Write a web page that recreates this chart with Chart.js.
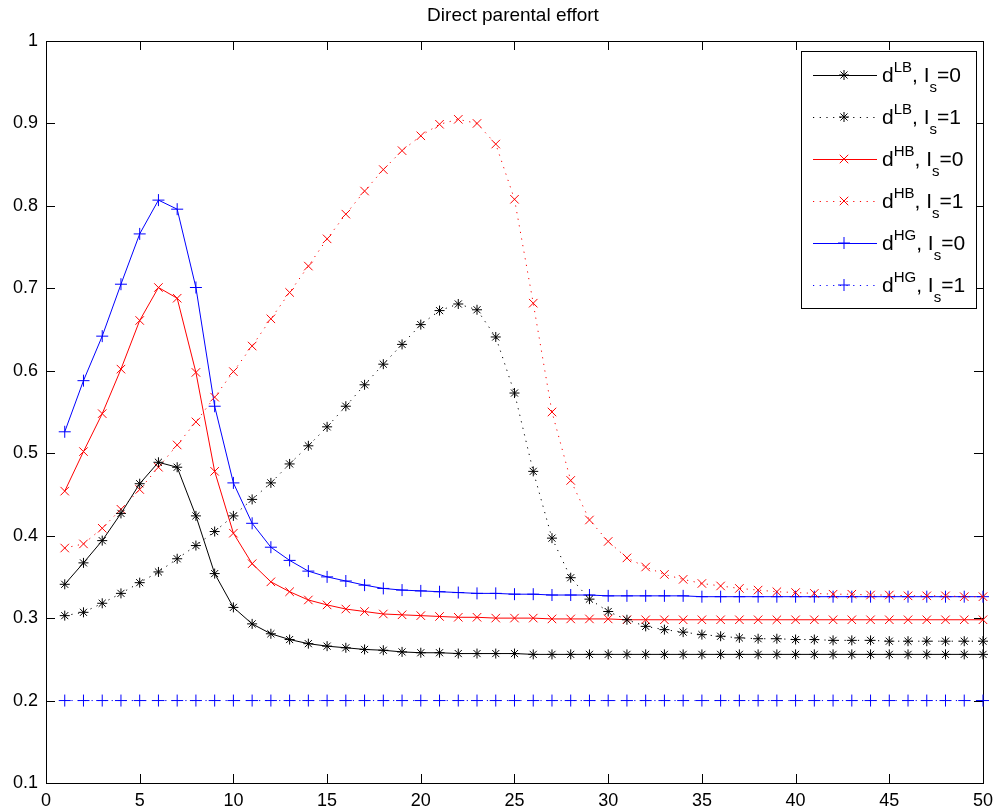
<!DOCTYPE html>
<html>
<head>
<meta charset="utf-8">
<script src="https://cdn.jsdelivr.net/npm/chart.js@4/dist/chart.umd.min.js"></script>
<style>
  html, body { margin: 0; padding: 0; background: #fff; }
  canvas { display: block; }
</style>
</head>
<body>
<canvas id="chart" width="1000" height="811"></canvas>
<script>
// x: period
const xs = [1, 2, 3, 4, 5, 6, 7, 8, 9, 10, 11, 12, 13, 14, 15, 16, 17, 18, 19, 20,
    21, 22, 23, 24, 25, 26, 27, 28, 29, 30, 31, 32, 33, 34, 35, 36, 37, 38, 39, 40,
    41, 42, 43, 44, 45, 46, 47, 48, 49, 50];

// d^LB, I_s=0
const dLB0 = [0.341, 0.367, 0.394, 0.427, 0.463, 0.489, 0.483, 0.424, 0.354, 0.313,
    0.293, 0.281, 0.274, 0.269, 0.266, 0.264, 0.262, 0.261, 0.259, 0.258,
    0.258, 0.257, 0.257, 0.257, 0.257, 0.256, 0.256, 0.256, 0.256, 0.256,
    0.256, 0.256, 0.256, 0.256, 0.256, 0.256, 0.256, 0.256, 0.256, 0.256,
    0.256, 0.256, 0.256, 0.256, 0.256, 0.256, 0.256, 0.256, 0.256, 0.256];
// d^LB, I_s=1
const dLB1 = [0.303, 0.307, 0.318, 0.330, 0.343, 0.356, 0.372, 0.388, 0.405, 0.424,
    0.444, 0.464, 0.487, 0.509, 0.532, 0.557, 0.583, 0.608, 0.632, 0.656,
    0.673, 0.681, 0.674, 0.641, 0.573, 0.478, 0.397, 0.349, 0.323, 0.308,
    0.298, 0.290, 0.286, 0.283, 0.280, 0.278, 0.276, 0.275, 0.275, 0.274,
    0.274, 0.273, 0.273, 0.273, 0.272, 0.272, 0.272, 0.272, 0.272, 0.272];
// d^HB, I_s=0
const dHB0 = [0.454, 0.502, 0.548, 0.602, 0.661, 0.701, 0.688, 0.598, 0.478, 0.403,
    0.366, 0.344, 0.332, 0.322, 0.316, 0.311, 0.308, 0.305, 0.304, 0.303,
    0.302, 0.301, 0.301, 0.300, 0.300, 0.300, 0.299, 0.299, 0.299, 0.299,
    0.298, 0.298, 0.298, 0.298, 0.298, 0.298, 0.298, 0.298, 0.298, 0.298,
    0.298, 0.298, 0.298, 0.298, 0.298, 0.298, 0.298, 0.298, 0.298, 0.298];
// d^HB, I_s=1
const dHB1 = [0.385, 0.390, 0.409, 0.432, 0.456, 0.483, 0.510, 0.538, 0.568, 0.599,
    0.630, 0.663, 0.695, 0.727, 0.760, 0.790, 0.818, 0.844, 0.867, 0.885,
    0.899, 0.905, 0.900, 0.875, 0.808, 0.682, 0.550, 0.467, 0.419, 0.393,
    0.373, 0.362, 0.353, 0.347, 0.342, 0.339, 0.336, 0.334, 0.332, 0.331,
    0.330, 0.329, 0.329, 0.328, 0.328, 0.327, 0.327, 0.327, 0.326, 0.326];
// d^HG, I_s=0
const dHG0 = [0.526, 0.588, 0.642, 0.705, 0.766, 0.807, 0.796, 0.701, 0.557, 0.464,
    0.415, 0.386, 0.370, 0.357, 0.350, 0.345, 0.340, 0.336, 0.334, 0.333,
    0.332, 0.331, 0.330, 0.330, 0.329, 0.329, 0.328, 0.328, 0.328, 0.327,
    0.327, 0.327, 0.327, 0.327, 0.326, 0.326, 0.326, 0.326, 0.326, 0.326,
    0.326, 0.326, 0.326, 0.326, 0.326, 0.326, 0.326, 0.326, 0.326, 0.326];
// d^HG, I_s=1
const dHG1 = [0.2, 0.2, 0.2, 0.2, 0.2, 0.2, 0.2, 0.2, 0.2, 0.2,
    0.2, 0.2, 0.2, 0.2, 0.2, 0.2, 0.2, 0.2, 0.2, 0.2,
    0.2, 0.2, 0.2, 0.2, 0.2, 0.2, 0.2, 0.2, 0.2, 0.2,
    0.2, 0.2, 0.2, 0.2, 0.2, 0.2, 0.2, 0.2, 0.2, 0.2,
    0.2, 0.2, 0.2, 0.2, 0.2, 0.2, 0.2, 0.2, 0.2, 0.2];

const xTicks = [0, 5, 10, 15, 20, 25, 30, 35, 40, 45, 50];
const yTicks = [0.1, 0.2, 0.3, 0.4, 0.5, 0.6, 0.7, 0.8, 0.9, 1];

const FONT = '"Liberation Sans", Arial, sans-serif';
const DOTS = [1.2, 5.5];

function serie(sup, values, color, style, radius, dash) {
    return {
        sup: sup,
        data: xs.map((x, i) => ({ x: x, y: values[i] })),
        borderColor: color,
        backgroundColor: color,
        borderWidth: 1,
        borderDash: dash,
        pointStyle: style,
        pointRadius: radius,
        pointBorderWidth: 1,
        pointBorderColor: color,
        pointHoverRadius: radius,
        tension: 0,
        clip: false
    };
}

const datasets = [
    serie('LB', dLB0, '#000000', 'star', 5, []),
    serie('LB', dLB1, '#000000', 'star', 5, DOTS),
    serie('HB', dHB0, '#ff0000', 'crossRot', 6, []),
    serie('HB', dHB1, '#ff0000', 'crossRot', 6, DOTS),
    serie('HG', dHG0, '#0000ff', 'cross', 6, []),
    serie('HG', dHG1, '#0000ff', 'cross', 6, DOTS)
];
// I_s vrednosti u legendi
const isValues = ['0', '1', '0', '1', '0', '1'];

// okvir, unutrasnji tickovi, naslov
const frame = {
    id: 'frame',
    beforeDatasetsDraw(chart) {
        const { ctx, chartArea: a, scales } = chart;
        ctx.save();
        ctx.strokeStyle = '#000';
        ctx.lineWidth = 1;
        ctx.strokeRect(a.left + 0.5, a.top + 0.5, a.right - a.left, a.bottom - a.top);
        ctx.beginPath();
        xTicks.forEach(v => {
            const px = Math.round(scales.x.getPixelForValue(v)) + 0.5;
            ctx.moveTo(px, a.bottom); ctx.lineTo(px, a.bottom - 9);
            ctx.moveTo(px, a.top); ctx.lineTo(px, a.top + 9);
        });
        yTicks.forEach(v => {
            const py = Math.round(scales.y.getPixelForValue(v)) + 0.5;
            ctx.moveTo(a.left, py); ctx.lineTo(a.left + 9, py);
            ctx.moveTo(a.right, py); ctx.lineTo(a.right - 9, py);
        });
        ctx.stroke();
        ctx.fillStyle = '#000';
        ctx.font = '19px ' + FONT;
        ctx.textAlign = 'center';
        ctx.textBaseline = 'middle';
        ctx.fillText('Direct parental effort', 513, 16);
        ctx.restore();
    }
};

function marker(ctx, style, r, x, y) {
    ctx.beginPath();
    const d = r * Math.SQRT1_2;
    if (style === 'cross' || style === 'star') {
        ctx.moveTo(x - r, y); ctx.lineTo(x + r, y);
        ctx.moveTo(x, y - r); ctx.lineTo(x, y + r);
    }
    if (style === 'crossRot' || style === 'star') {
        ctx.moveTo(x - d, y - d); ctx.lineTo(x + d, y + d);
        ctx.moveTo(x - d, y + d); ctx.lineTo(x + d, y - d);
    }
    ctx.stroke();
}

// legenda sa superskriptom i subskriptom
const legendBox = {
    id: 'legendBox',
    afterDatasetsDraw(chart) {
        const ctx = chart.ctx;
        ctx.save();
        ctx.fillStyle = '#fff';
        ctx.fillRect(801, 51, 175, 257);
        ctx.strokeStyle = '#000';
        ctx.lineWidth = 1;
        ctx.strokeRect(801.5, 51.5, 175, 257);
        chart.data.datasets.forEach((ds, i) => {
            const y = 75 + i * 42;
            ctx.strokeStyle = ds.borderColor;
            ctx.lineWidth = 1;
            ctx.setLineDash(ds.borderDash);
            ctx.beginPath();
            ctx.moveTo(813, y + 0.5);
            ctx.lineTo(877, y + 0.5);
            ctx.stroke();
            ctx.setLineDash([]);
            marker(ctx, ds.pointStyle, ds.pointRadius, 844, y);

            ctx.fillStyle = '#000';
            ctx.textAlign = 'left';
            ctx.textBaseline = 'alphabetic';
            let x = 882;
            const parts = [
                ['d', 21, 7],
                [ds.sup, 15, -3],
                [', I', 21, 7],
                ['s', 15, 17],
                ['=' + isValues[i], 21, 7]
            ];
            parts.forEach(([t, size, dy]) => {
                ctx.font = size + 'px ' + FONT;
                ctx.fillText(t, x, y + dy);
                x += ctx.measureText(t).width;
            });
        });
        ctx.restore();
    }
};

const chart = new Chart(document.getElementById('chart').getContext('2d'), {
    type: 'line',
    data: { datasets: datasets },
    options: {
        responsive: false,
        animation: false,
        layout: { padding: { top: 41, right: 13, left: 0, bottom: 0 } },
        plugins: {
            legend: { display: false },
            title: { display: false },
            tooltip: { enabled: false }
        },
        scales: {
            x: {
                type: 'linear',
                min: 0,
                max: 50,
                afterFit: s => { s.height = 28; },
                afterBuildTicks: s => { s.ticks = xTicks.map(v => ({ value: v })); },
                grid: { display: false, drawTicks: false },
                border: { display: false },
                ticks: { color: '#000', font: { family: FONT, size: 18 }, padding: 7, maxRotation: 0 }
            },
            y: {
                type: 'linear',
                min: 0.1,
                max: 1,
                afterFit: s => { s.width = 46; },
                afterBuildTicks: s => { s.ticks = yTicks.map(v => ({ value: v })); },
                grid: { display: false, drawTicks: false },
                border: { display: false },
                ticks: {
                    color: '#000',
                    font: { family: FONT, size: 18 },
                    padding: 8,
                    callback: v => String(+v.toFixed(1))
                }
            }
        }
    },
    plugins: [frame, legendBox]
});
</script>
</body>
</html>
